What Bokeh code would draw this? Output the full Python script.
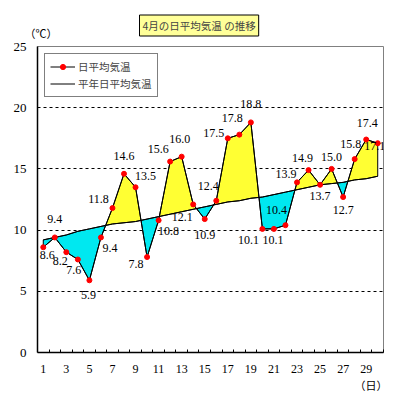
from bokeh.plotting import figure
from bokeh.models import FixedTicker, Legend, LegendItem, Range1d, ColumnDataSource, Title
from bokeh.core.properties import value
from bokeh.embed import file_html
from bokeh.resources import INLINE

days = list(range(1, 31))
daily = [8.6, 9.4, 8.2, 7.6, 5.9, 9.4, 11.8, 14.6, 13.5, 7.8,
         10.8, 15.6, 16.0, 12.1, 10.9, 12.4, 17.5, 17.8, 18.8, 10.1,
         10.1, 10.4, 13.9, 14.9, 13.7, 15.0, 12.7, 15.8, 17.4, 17.1]
normal = [9.2, 9.4, 9.6, 9.9, 10.1, 10.3, 10.5, 10.6, 10.7, 10.9,
          11.1, 11.3, 11.5, 11.7, 11.9, 12.1, 12.3, 12.4, 12.6, 12.7,
          12.9, 13.1, 13.3, 13.5, 13.7, 13.8, 13.9, 14.1, 14.2, 14.4]
x_tick_labels = [1, 3, 5, 7, 9, 11, 13, 15, 17, 19, 21, 23, 25, 27, 29]
y_ticks = [0, 5, 10, 15, 20, 25]

# label placement (screen px offsets, style only)
lab_dx = [4, 0, -6, -4, -1, 9, -14, 0, 10, -11, 10, -12, -2, -11, 0,
          -8, -14, -7, 0, -14, -1, -9, -11, -6, 0, 0, 0, -4, 1, -3]
lab_dy = [8, -18, 9, 11, 15, 11, -9, -18, -11, 7, 11, -13, -18, 13, 16,
          -15, -5, -17, -18, 11, 11, -15, -8, -12, 11, -12, 13, -15, -17, 3]

YELLOW = "#FFFF33"
CYAN = "#00E8F0"

p = figure(output_backend="svg", toolbar_location=None,
           frame_width=346, frame_height=306,
           min_border_left=37, min_border_top=46, min_border_right=8, min_border_bottom=40,
           x_range=Range1d(0.5, 30.5), y_range=Range1d(0, 25))
p.outline_line_color = "#808080"
p.background_fill_color = "white"

# unit label above the frame (closest to frame)
p.add_layout(Title(text="（℃）", align="left", offset=-13, standoff=11,
                   text_font="Noto Sans CJK JP", text_font_size="11px",
                   text_font_style="normal", text_color="black"), "above")

# main title with yellow box
p.title.text = "4月の日平均気温 の推移"
p.title.align = "left"
p.title.offset = 102
p.title.text_font = "Noto Sans CJK JP"
p.title.text_font_size = "10.5px"
p.title.text_font_style = "normal"
p.title.background_fill_color = "#FFFF99"
p.title.border_line_color = "black"
p.title.padding = 3
p.title.standoff = -37

# day unit label below the axis
p.add_layout(Title(text="（日）", align="right", offset=-4, standoff=-2,
                   text_font="Noto Sans CJK JP", text_font_size="11px",
                   text_font_style="normal", text_color="black"), "below")

# build fill polygons between daily and normal
pos_xs, pos_ys, neg_xs, neg_ys = [], [], [], []
def flush(seg_x, seg_t, seg_n, sign):
    if len(seg_x) < 2:
        return
    xs = seg_x + seg_x[::-1]
    ys = seg_t + seg_n[::-1]
    if sign > 0:
        pos_xs.append(xs); pos_ys.append(ys)
    else:
        neg_xs.append(xs); neg_ys.append(ys)

diff = [t - n for t, n in zip(daily, normal)]
seg_x, seg_t, seg_n = [days[0]], [daily[0]], [normal[0]]
sign = 1 if diff[0] >= 0 else -1
for i in range(len(days) - 1):
    d0, d1 = diff[i], diff[i + 1]
    s1 = 1 if d1 >= 0 else -1
    if s1 != sign:
        t = d0 / (d0 - d1)
        cx = days[i] + t
        cy = normal[i] + t * (normal[i + 1] - normal[i])
        seg_x.append(cx); seg_t.append(cy); seg_n.append(cy)
        flush(seg_x, seg_t, seg_n, sign)
        seg_x, seg_t, seg_n = [cx], [cy], [cy]
        sign = s1
    seg_x.append(days[i + 1]); seg_t.append(daily[i + 1]); seg_n.append(normal[i + 1])
flush(seg_x, seg_t, seg_n, sign)

p.patches(pos_xs, pos_ys, fill_color=YELLOW, line_color="black", line_width=1)
p.patches(neg_xs, neg_ys, fill_color=CYAN, line_color="black", line_width=1)

r_norm = p.line(days, normal, line_color="black", line_width=1)
r_line = p.line(days, daily, line_color="black", line_width=1)
r_pts = p.scatter(days, daily, size=5, fill_color="red", line_color="red")

src = ColumnDataSource(dict(x=days, y=daily, t=["%.1f" % v for v in daily],
                            dx=lab_dx, dy=lab_dy))
p.text(x="x", y="y", text="t", x_offset="dx", y_offset="dy", source=src,
       text_font=value("Liberation Serif"), text_font_size="12px",
       text_align="center", text_baseline="middle", text_color="black")

# axes
p.xaxis.ticker = FixedTicker(ticks=x_tick_labels,
                             minor_ticks=[d + 0.5 for d in days])
p.xaxis.major_tick_line_color = None
p.xaxis.minor_tick_in = 3
p.xaxis.minor_tick_out = 0
p.xaxis.minor_tick_line_color = "black"
p.xaxis.axis_line_color = "black"
p.xaxis.axis_line_width = 1.5
p.xaxis.major_label_standoff = 6
p.xaxis.major_label_text_font = "Liberation Serif"
p.xaxis.major_label_text_font_size = "12px"
p.xaxis.major_label_text_color = "black"

p.yaxis.ticker = FixedTicker(ticks=y_ticks)
p.yaxis.major_tick_line_color = None
p.yaxis.minor_tick_line_color = None
p.yaxis.axis_line_color = "black"
p.yaxis.axis_line_width = 1.5
p.yaxis.major_label_standoff = 5
p.yaxis.major_label_text_font = "Liberation Serif"
p.yaxis.major_label_text_font_size = "13px"
p.yaxis.major_label_text_color = "black"

p.xgrid.grid_line_color = None
p.ygrid.ticker = FixedTicker(ticks=[5, 10, 15, 20])
p.ygrid.grid_line_color = "black"
p.ygrid.grid_line_dash = "3 3"
p.ygrid.grid_line_width = 1

legend = Legend(items=[LegendItem(label="日平均気温", renderers=[r_line, r_pts]),
                       LegendItem(label="平年日平均気温", renderers=[r_norm])],
                location="top_left", margin=7, padding=5, spacing=2,
                glyph_width=25, glyph_height=13, label_height=13, label_standoff=3,
                label_text_font="Noto Sans CJK JP", label_text_font_size="10.5px",
                border_line_color="black", border_line_width=1,
                background_fill_alpha=1)
p.add_layout(legend)

open("out.html", "w").write(file_html(p, INLINE))
